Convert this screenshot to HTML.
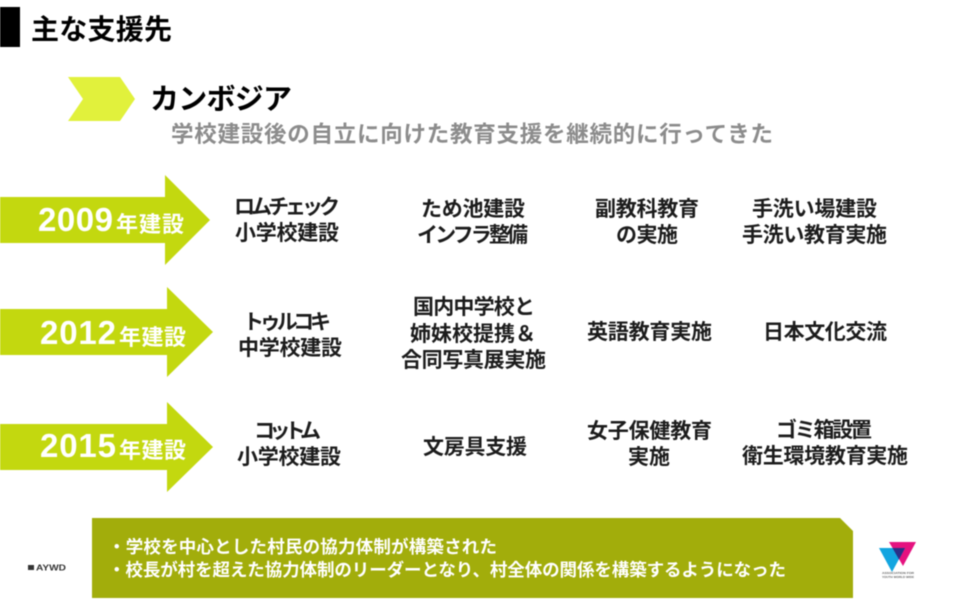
<!DOCTYPE html>
<html lang="ja">
<head>
<meta charset="utf-8">
<style>
html,body{margin:0;padding:0;background:#fff;width:960px;height:600px;overflow:hidden}
svg{display:block;filter:blur(0.4px)}
text{font-family:"Liberation Sans","Noto Sans CJK JP",sans-serif;font-weight:700}
.b{font-size:21px;fill:#1c1c1c}
.w{font-size:17.5px;fill:#fff}
.y{font-size:33px;fill:#fff}
.k{font-size:22px;fill:#fff}
</style>
</head>
<body>
<svg width="960" height="600" viewBox="0 0 960 600" xmlns="http://www.w3.org/2000/svg">
<rect x="0" y="7" width="20" height="40" fill="#000"/>
<text x="31" y="39" font-size="28" textLength="141" lengthAdjust="spacing" fill="#000">主な支援先</text>
<polygon points="68,77 120,77 135,99 120,121 68,121 83,99" fill="#e1f13c"/>
<text x="150" y="109" font-size="29" textLength="142" lengthAdjust="spacing" fill="#000">カンボジア</text>
<text x="171" y="142" font-size="22.5" textLength="602" lengthAdjust="spacing" fill="#8c8c8c">学校建設後の自立に向けた教育支援を継続的に行ってきた</text>

<polygon points="0,197 165,197 165,175 210,220 165,265 165,243 0,243" fill="#c3d80f"/>
<polygon points="0,309 167,309 167,287 213,332 167,377 167,355 0,355" fill="#c3d80f"/>
<polygon points="0,424 167,424 167,402 213,447 167,492 167,470 0,470" fill="#c3d80f"/>

<text class="y" x="38" y="231" textLength="75" lengthAdjust="spacing">2009</text>
<text class="k" x="116" y="232" textLength="68" lengthAdjust="spacing">年建設</text>
<text class="y" x="40" y="344" textLength="76" lengthAdjust="spacing">2012</text>
<text class="k" x="119" y="345" textLength="67" lengthAdjust="spacing">年建設</text>
<text class="y" x="40" y="457" textLength="76" lengthAdjust="spacing">2015</text>
<text class="k" x="119" y="458" textLength="67" lengthAdjust="spacing">年建設</text>

<text class="b" x="234" y="214" textLength="106" lengthAdjust="spacing">ロムチェック</text>
<text class="b" x="235" y="240" textLength="104" lengthAdjust="spacing">小学校建設</text>
<text class="b" x="421" y="216" textLength="104" lengthAdjust="spacing">ため池建設</text>
<text class="b" x="417" y="242" textLength="111" lengthAdjust="spacing">インフラ整備</text>
<text class="b" x="595" y="216" textLength="104" lengthAdjust="spacing">副教科教育</text>
<text class="b" x="616" y="242" textLength="62" lengthAdjust="spacing">の実施</text>
<text class="b" x="752" y="216" textLength="125" lengthAdjust="spacing">手洗い場建設</text>
<text class="b" x="742" y="242" textLength="145" lengthAdjust="spacing">手洗い教育実施</text>

<text class="b" x="243" y="329" textLength="88" lengthAdjust="spacing">トゥルコキ</text>
<text class="b" x="238" y="355" textLength="104" lengthAdjust="spacing">中学校建設</text>
<text class="b" x="413" y="314" textLength="122" lengthAdjust="spacing">国内中学校と</text>
<text class="b" x="410" y="341" textLength="126" lengthAdjust="spacing">姉妹校提携＆</text>
<text class="b" x="401" y="367" textLength="145" lengthAdjust="spacing">合同写真展実施</text>
<text class="b" x="587" y="339" textLength="125" lengthAdjust="spacing">英語教育実施</text>
<text class="b" x="763" y="339" textLength="124" lengthAdjust="spacing">日本文化交流</text>

<text class="b" x="254" y="438" textLength="67" lengthAdjust="spacing">コットム</text>
<text class="b" x="237" y="464" textLength="104" lengthAdjust="spacing">小学校建設</text>
<text class="b" x="423" y="454" textLength="104" lengthAdjust="spacing">文房具支援</text>
<text class="b" x="587" y="438" textLength="125" lengthAdjust="spacing">女子保健教育</text>
<text class="b" x="628" y="464" textLength="42" lengthAdjust="spacing">実施</text>
<text class="b" x="776" y="437" textLength="96" lengthAdjust="spacing">ゴミ箱設置</text>
<text class="b" x="742" y="463" textLength="166" lengthAdjust="spacing">衛生環境教育実施</text>

<polygon points="92,518 840,518 853,531 853,598 92,598" fill="#a2ad0b"/>
<text class="w" x="108" y="553" textLength="389" lengthAdjust="spacing">・学校を中心とした村民の協力体制が構築された</text>
<text class="w" x="108" y="576" textLength="678" lengthAdjust="spacing">・校長が村を超えた協力体制のリーダーとなり、村全体の関係を構築するようになった</text>

<rect x="28" y="565" width="6" height="5" fill="#333"/>
<text x="36" y="570.5" font-size="8" textLength="30" lengthAdjust="spacingAndGlyphs" fill="#333">AYWD</text>

<polygon points="889,542 916,542 903,566" fill="#e5127f"/>
<polygon points="879,548 905,548 892,572" fill="#12a5e0"/>
<polygon points="892.5,548 905,548 899,559.5" fill="#2b2f86"/>
<text x="882" y="574" font-size="3" textLength="32" lengthAdjust="spacingAndGlyphs" fill="#666">ASSOCIATION FOR</text>
<text x="882" y="578" font-size="3" textLength="32" lengthAdjust="spacingAndGlyphs" fill="#666">YOUTH WORLD WIDE</text>
</svg>
</body>
</html>
